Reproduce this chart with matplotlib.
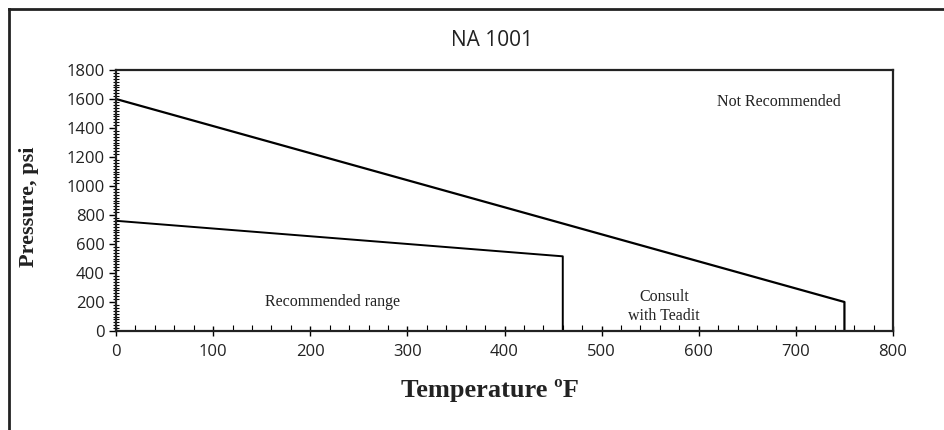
import numpy as np
import matplotlib.pyplot as plt
from matplotlib.lines import Line2D
from matplotlib.ticker import MultipleLocator

# boundary lines (temperature F, pressure psi)
upper_temp = [0, 750, 750]
upper_pres = [1600, 200, 0]
lower_temp = [0, 460, 460]
lower_pres = [760, 515, 0]

region_labels = ["Not Recommended", "Recommended range", "Consult\nwith Teadit"]
region_x = [683, 223, 564]
region_y = [1580, 200, 170]

sans = ["Open Sans", "DejaVu Sans"]
serif = ["Liberation Serif", "DejaVu Serif"]

fig = plt.figure(figsize=(9.44, 4.3), dpi=100)
ax = fig.add_axes([116 / 944, 1 - 331 / 430, (893 - 116) / 944, (331 - 70) / 430])

ax.plot(upper_temp, upper_pres, color="black", lw=1.6)
ax.plot(lower_temp, lower_pres, color="black", lw=1.4)

for lab, x, y in zip(region_labels, region_x, region_y):
    ax.text(x, y, lab, ha="center", va="center", fontsize=11.5,
            family=serif, color="#222222", linespacing=1.3)

ax.set_xlim(0, 800)
ax.set_ylim(0, 1800)
ax.xaxis.set_major_locator(MultipleLocator(100))
ax.xaxis.set_minor_locator(MultipleLocator(20))
ax.yaxis.set_major_locator(MultipleLocator(200))
ax.yaxis.set_minor_locator(MultipleLocator(20))
ax.tick_params(axis="x", which="major", direction="inout", length=7, width=1, pad=6)
ax.tick_params(axis="x", which="minor", direction="in", length=4, width=0.8)
ax.tick_params(axis="y", which="major", direction="out", length=5, width=1, pad=3)
ax.tick_params(axis="y", which="minor", direction="inout", length=4, width=0.8)
for lab in ax.get_xticklabels() + ax.get_yticklabels():
    lab.set_family(sans)
    lab.set_fontsize(12)
    lab.set_color("#222222")
for s in ax.spines.values():
    s.set_linewidth(1.6)
    s.set_color("#222222")

fig.text(492 / 944, 1 - 40 / 430, "NA 1001", ha="center", va="center",
         fontsize=15, family=sans, color="#222222")
fig.text(490 / 944, 1 - 391 / 430, "Temperature \u00baF", ha="center", va="center",
         fontsize=19, family=serif, fontweight="bold", color="#222222")
fig.text(29 / 944, 1 - 207 / 430, "Pressure, psi", ha="center", va="center",
         rotation=90, fontsize=16, family=serif, fontweight="bold", color="#222222")

# outer frame, only top and left edges are visible in the crop
fig.add_artist(Line2D([9 / 944, 9 / 944], [0, 1 - 9 / 430], transform=fig.transFigure,
                      color="#222222", lw=2))
fig.add_artist(Line2D([9 / 944, 1], [1 - 9 / 430, 1 - 9 / 430], transform=fig.transFigure,
                      color="#222222", lw=2))

fig.savefig("out.png", dpi=100)
